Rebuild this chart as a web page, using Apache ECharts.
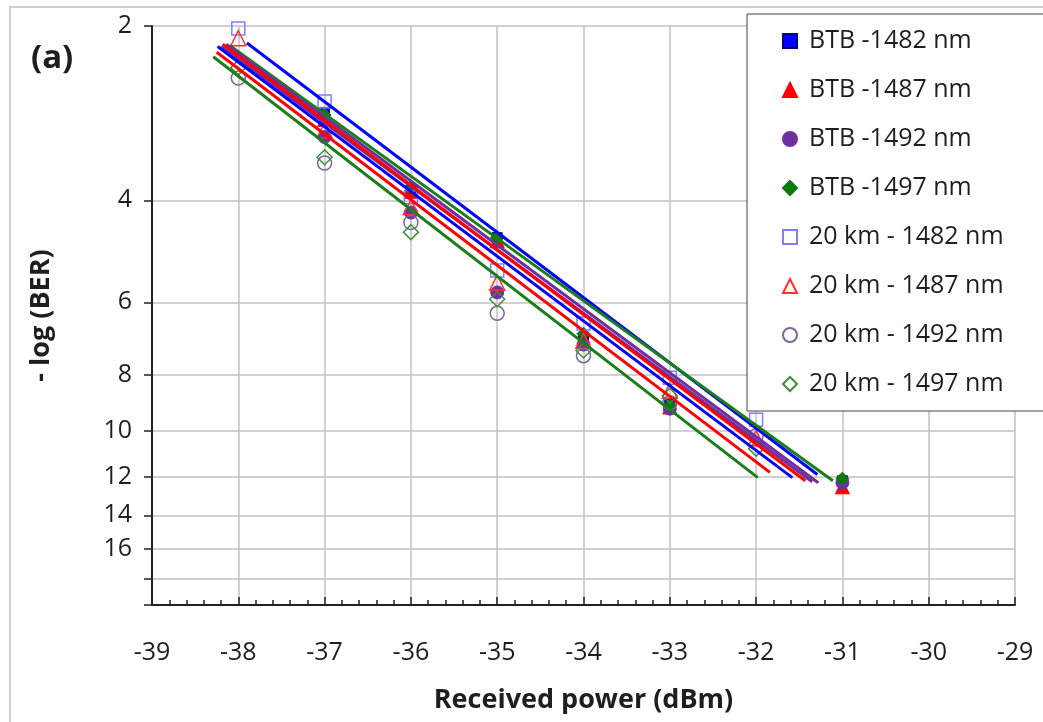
<!DOCTYPE html>
<html>
<head>
<meta charset="utf-8">
<script src="https://cdn.jsdelivr.net/npm/echarts@6/dist/echarts.min.js"></script>
<style>
  html, body { margin: 0; padding: 0; background: #fff; }
  #chart { width: 1043px; height: 722px; }
</style>
</head>
<body>
<div id="chart"></div>
<script>
// received power (dBm)
var powers = [-38, -37, -36, -35, -34, -33, -32, -31];

// -log(BER), null = no point
var btb1482 = [null, 2.82, 3.84, 4.64, 6.9, 9.0, null, 12.2];
var btb1487 = [null, 2.9, 3.86, 4.7, 7.0, 9.1, null, 12.5];
var btb1492 = [null, 3.11, 4.2, 5.77, 7.1, 9.16, null, 12.3];
var btb1497 = [null, 2.85, 3.8, 4.64, 6.8, 9.05, null, 12.1];
var km1482 = [2.02, 2.70, 3.95, 5.29, 6.53, 8.1, 9.57, null];
var km1487 = [2.10, 3.03, 4.11, 5.55, 6.99, 8.53, 10.3, null];
var km1492 = [2.46, 3.45, 4.37, 6.27, 7.42, 8.95, 10.2, null];
var km1497 = [2.36, 3.37, 4.54, 5.93, 7.27, 8.7, 10.74, null];

// fitted lines: start / end
var fitX0 = [-37.9, -38.1, -38.14, -38.2, -38.18, -38.24, -38.25, -38.29];
var fitY0 = [2.14, 2.16, 2.15, 2.17, 2.15, 2.17, 2.22, 2.26];
var fitX1 = [-31.29, -31.11, -31.28, -31.35, -31.43, -31.58, -31.84, -31.98];
var fitY1 = [11.9, 12.2, 12.3, 12.25, 12.2, 12.05, 11.8, 12.05];
var fitColors = ['#0000ff', '#1a7f1a', '#7030a0', '#7030a0', '#ff0000', '#0000ff', '#ff0000', '#1a7f1a'];

var yTicks = [2, 4, 6, 8, 10, 12, 14, 16, 18, 20];
var yLabels = [2, 4, 6, 8, 10, 12, 14, 16];

var font = 'Open Sans';
var txt = '#1e1e1e';

function pts(ys) {
    var out = [];
    for (var i = 0; i < powers.length; i++) {
        if (ys[i] != null) out.push([powers[i], ys[i]]);
    }
    return out;
}

function filled(name, ys, symbol, size, color, border) {
    return {
        name: name, type: 'scatter', data: pts(ys),
        symbol: symbol, symbolSize: size, z: 2,
        itemStyle: { color: color, borderColor: border || color, borderWidth: 1, opacity: 1 }
    };
}
function hollow(name, ys, symbol, size, color) {
    return {
        name: name, type: 'scatter', data: pts(ys),
        symbol: symbol, symbolSize: size, z: 3,
        itemStyle: { color: 'rgba(255,255,255,0)', borderColor: color, borderWidth: 1.5, opacity: 1 }
    };
}

var series = [
    filled('BTB -1482 nm', btb1482, 'rect', 10, '#0000ff', '#000080'),
    filled('BTB -1487 nm', btb1487, 'triangle', 14, '#ff0000'),
    filled('BTB -1492 nm', btb1492, 'circle', 13, '#7030a0'),
    filled('BTB -1497 nm', btb1497, 'diamond', 13, '#0a7a0a'),
    hollow('20 km - 1482 nm', km1482, 'rect', 13, '#8080ff'),
    hollow('20 km - 1487 nm', km1487, 'triangle', 15, '#ff3030'),
    hollow('20 km - 1492 nm', km1492, 'circle', 14, '#8064a2'),
    hollow('20 km - 1497 nm', km1497, 'diamond', 15, '#3d913d')
];
var legendNames = series.map(function (s) { return s.name; });

for (var i = 0; i < fitX0.length; i++) {
    series.push({
        type: 'line', silent: true, symbol: 'none', z: 4,
        data: [[fitX0[i], fitY0[i]], [fitX1[i], fitY1[i]]],
        lineStyle: { color: fitColors[i], width: 3 }
    });
}

var chart = echarts.init(document.getElementById('chart'));
chart.setOption({
    animation: false,
    backgroundColor: '#fff',
    textStyle: { fontFamily: font },
    grid: { left: 152, right: 28, top: 26, bottom: 117 },
    legend: {
        data: legendNames,
        orient: 'vertical',
        left: 747, top: 14,
        width: 295,
        padding: [14, 40, 14, 35],
        itemWidth: 14, itemHeight: 14,
        itemGap: 23,
        backgroundColor: '#fff',
        borderColor: '#444', borderWidth: 1,
        textStyle: { fontFamily: font, fontSize: 25, color: txt, lineHeight: 26, padding: [0, 0, 0, 7] },
        selectedMode: false
    },
    xAxis: {
        type: 'value', min: -39, max: -29, interval: 1,
        name: 'Received power (dBm)', nameLocation: 'middle', nameGap: 82,
        nameTextStyle: { fontFamily: font, fontSize: 27, fontWeight: 'bold', color: txt },
        axisLine: { lineStyle: { color: '#222', width: 2 } },
        axisTick: { inside: true, length: 8, lineStyle: { color: '#222', width: 1.5 } },
        minorTick: { show: true, splitNumber: 5, length: 5, lineStyle: { color: '#222', width: 1.5 } },
        splitLine: { show: true, lineStyle: { color: '#c2c2c2', width: 1.5 } },
        axisLabel: { margin: 35, fontSize: 25, color: txt }
    },
    yAxis: {
        type: 'log', logBase: 10, min: 2, max: 20, inverse: true,
        name: '- log (BER)', nameLocation: 'middle', nameGap: 97,
        nameTextStyle: { fontFamily: font, fontSize: 27, fontWeight: 'bold', color: txt },
        axisLine: { show: true, lineStyle: { color: '#222', width: 2 } },
        axisTick: { show: true, inside: false, length: 8, customValues: yTicks, lineStyle: { color: '#222', width: 1.5 } },
        minorTick: { show: false },
        splitLine: { show: true, lineStyle: { color: '#c2c2c2', width: 1.5 } },
        axisLabel: { customValues: yLabels, margin: 20, fontSize: 25, color: txt }
    },
    graphic: [
        { type: 'rect', silent: true, z: -1, shape: { x: 10, y: 7, width: 1040, height: 720 },
          style: { fill: 'none', stroke: '#cfcfcf', lineWidth: 2 } },
        { type: 'text', left: 31, top: 42, silent: true,
          style: { text: '(a)', font: 'bold 33px "Open Sans"', fill: txt } }
    ],
    series: series
});
</script>
</body>
</html>
